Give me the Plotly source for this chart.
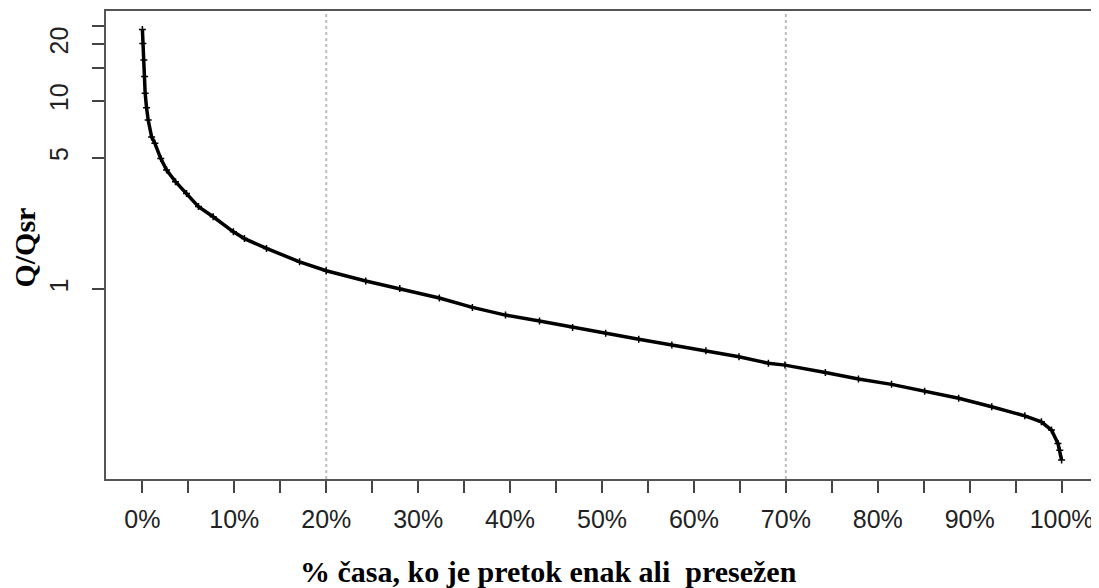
import plotly.graph_objects as go

# Flow duration curve
time_pct = [0.0, 0.05, 0.16, 0.24, 0.3, 0.45, 0.63, 1.0, 1.36, 2.0, 2.63, 3.6, 4.8,
            6.1, 7.7, 9.9, 11.1, 13.5, 17.1, 20.0, 24.3, 28.0, 32.3, 35.9, 39.5,
            43.2, 46.8, 50.4, 54.0, 57.6, 61.3, 64.9, 68.1, 69.9, 74.3, 77.9, 81.5,
            85.1, 88.8, 92.4, 96.0, 97.8, 98.9, 99.6, 99.8, 100.0]
q_ratio = [24.0, 20.2, 16.5, 13.5, 11.0, 9.2, 7.93, 6.45, 5.96, 4.95, 4.30, 3.73, 3.23,
           2.75, 2.43, 2.02, 1.86, 1.65, 1.40, 1.255, 1.107, 1.01, 0.90, 0.802, 0.730,
           0.679, 0.628, 0.584, 0.543, 0.506, 0.472, 0.439, 0.405, 0.396, 0.362, 0.334, 0.313,
           0.288, 0.264, 0.238, 0.213, 0.198, 0.179, 0.152, 0.140, 0.124]

x_tick_vals = list(range(0, 101, 5))
x_tick_text = [f"{v}%" if v % 10 == 0 else "" for v in x_tick_vals]
y_tick_vals = [1, 5, 10, 15, 20, 25]
y_tick_text = ["1", "5", "10", "", "20", ""]
ref_lines = [20, 70]

fig = go.Figure()
fig.add_trace(go.Scatter(
    x=time_pct, y=q_ratio, mode="lines+markers",
    line=dict(color="black", width=3.5),
    marker=dict(color="black", size=5, symbol="cross-thin", line=dict(width=1.5, color="black")),
    showlegend=False,
))

for v in ref_lines:
    fig.add_shape(type="line", x0=v, x1=v, y0=0, y1=1, xref="x", yref="paper",
                  line=dict(color="#bdbdbd", width=2, dash="dot"), layer="below")

fig.update_layout(
    width=1091, height=580,
    margin=dict(l=98, r=0, t=3, b=109),
    paper_bgcolor="white", plot_bgcolor="white",
    font=dict(family="Liberation Sans, Arial, sans-serif", color="#222"),
    xaxis=dict(range=[-3.96, 103.85], tickvals=x_tick_vals, ticktext=x_tick_text,
               ticks="outside", ticklen=12, tickwidth=1.5, tickcolor="#444",
               showline=True, linecolor="#555", linewidth=1.5, mirror=True,
               showgrid=False, zeroline=False, tickfont=dict(size=25),
               ticklabelstandoff=5),
    yaxis=dict(type="log", range=[-1.007, 1.478], tickvals=y_tick_vals, ticktext=y_tick_text,
               ticks="outside", ticklen=12, tickwidth=1.5, tickcolor="#444",
               showline=True, linecolor="#555", linewidth=1.5, mirror=True,
               showgrid=False, zeroline=False, tickfont=dict(size=25), tickangle=-90,
               ticklabelstandoff=14),
    annotations=[
        dict(text="<b>% časa, ko je pretok enak ali\u00a0 presežen</b>", xref="paper", yref="paper",
             x=0.4466, y=-0.1987, xanchor="center", yanchor="middle", showarrow=False,
             font=dict(family="Liberation Serif, Times New Roman, serif", size=30, color="black")),
        dict(text="<b>Q/Qsr</b>", xref="paper", yref="paper", textangle=-90,
             x=-0.0826, y=0.4947, xanchor="center", yanchor="middle", showarrow=False,
             font=dict(family="Liberation Serif, Times New Roman, serif", size=30, color="black")),
    ],
)

fig.write_html("out.html")
